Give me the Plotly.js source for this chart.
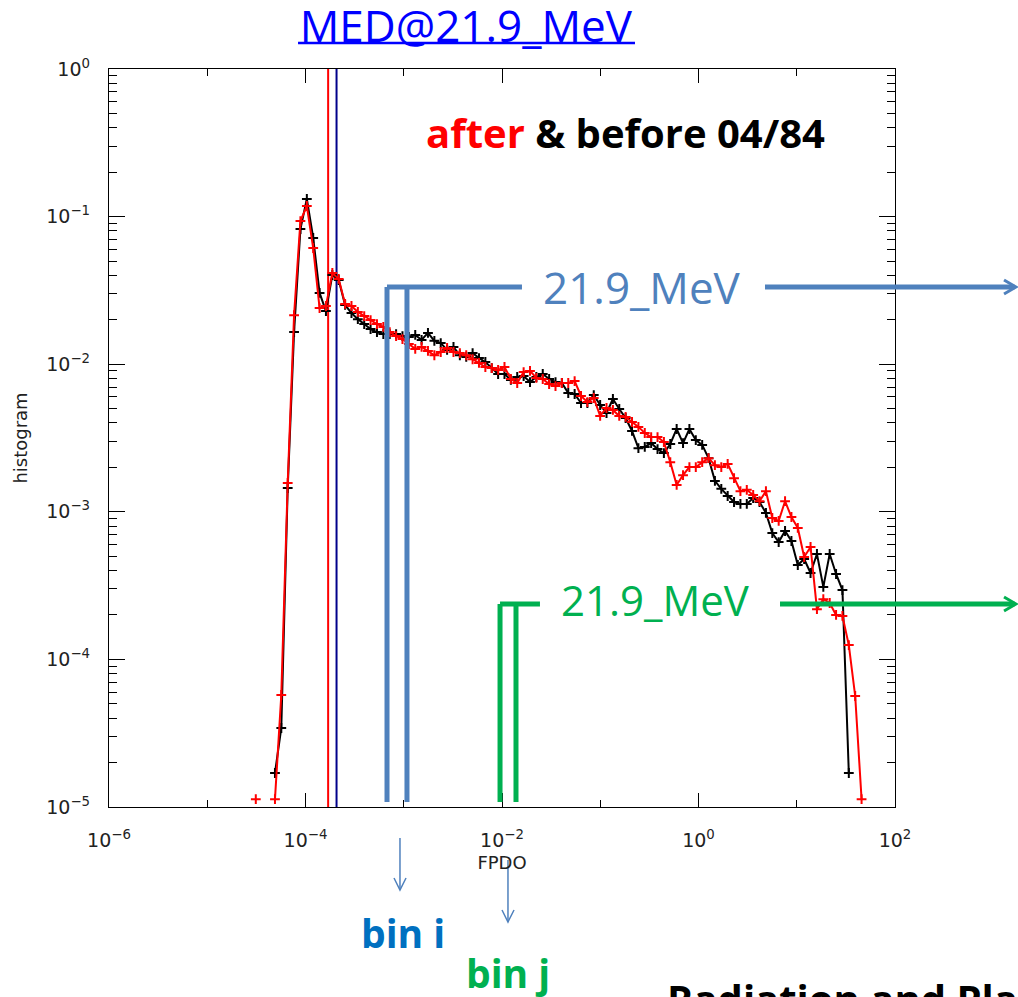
<!DOCTYPE html>
<html>
<head>
<meta charset="utf-8">
<script src="https://cdn.plot.ly/plotly-3.0.1.min.js"></script>
<style>
html,body{margin:0;padding:0;background:#fff;}
#chart{width:1018px;height:997px;}
</style>
</head>
<body>
<div id="chart"></div>
<script>
// FPDO bin centres (shared by both histograms)
var fpdoBins = [
  3.12e-5, 3.62e-5, 4.21e-5, 4.89e-5, 5.67e-5, 6.59e-5, 7.65e-5, 8.88e-5,
  1.032e-4, 1.198e-4, 1.391e-4, 1.615e-4, 1.876e-4, 2.178e-4, 2.529e-4, 2.937e-4, 3.410e-4, 3.960e-4, 4.597e-4, 5.339e-4, 6.199e-4, 7.198e-4, 8.358e-4, 9.705e-4,
  1.127e-3, 1.309e-3, 1.519e-3, 1.764e-3, 2.049e-3, 2.379e-3, 2.762e-3, 3.208e-3, 3.725e-3, 4.325e-3, 5.022e-3, 5.831e-3, 6.771e-3, 7.862e-3, 9.131e-3,
  1.060e-2, 1.231e-2, 1.429e-2, 1.660e-2, 1.928e-2, 2.238e-2, 2.599e-2, 3.018e-2, 3.504e-2, 4.069e-2, 4.725e-2, 5.487e-2, 6.371e-2, 7.397e-2, 8.590e-2, 9.975e-2,
  0.1158, 0.1345, 0.1561, 0.1813, 0.2105, 0.2445, 0.2839, 0.3297, 0.3828, 0.4445, 0.5161, 0.5994, 0.6960, 0.8082, 0.9384,
  1.090, 1.265, 1.469, 1.706, 1.981, 2.300, 2.671, 3.101, 3.601, 4.181, 4.856, 5.638, 6.547, 7.603, 8.828,
  10.25, 11.90, 13.82, 16.05, 18.64, 21.64, 25.13, 29.18, 33.88, 39.34, 45.68
];

// histogram before 04/84 (black)
var histBefore = [
  null, null, null,
  1.70e-5, 3.43e-5, 1.45e-3, 1.65e-2, 8.24e-2, 0.1316, 7.16e-2, 3.04e-2, 2.29e-2, 4.02e-2,
  3.72e-2, 2.52e-2, 2.22e-2, 2.02e-2, 1.87e-2, 1.73e-2, 1.65e-2, 1.60e-2, 1.60e-2, 1.60e-2,
  1.55e-2, 1.53e-2, 1.58e-2, 1.46e-2, 1.63e-2, 1.44e-2, 1.39e-2, 1.25e-2, 1.31e-2, 1.15e-2,
  1.12e-2, 1.19e-2, 1.10e-2, 1.035e-2, 9.42e-3, 8.58e-3, 8.58e-3, 7.82e-3, 8.19e-3, 8.32e-3,
  7.57e-3, 8.19e-3, 8.58e-3, 7.94e-3, 7.57e-3, 7.46e-3, 6.38e-3, 6.28e-3, 5.46e-3, 5.46e-3,
  6.18e-3, 5.29e-3, 4.67e-3, 5.81e-3, 4.97e-3, 4.32e-3, 3.53e-3, 2.70e-3, 2.75e-3, 2.92e-3,
  2.66e-3, 2.50e-3, 2.88e-3, 3.64e-3, 2.92e-3, 3.64e-3, 3.06e-3, 2.84e-3, 2.31e-3, 1.62e-3,
  1.43e-3, 1.28e-3, 1.165e-3, 1.13e-3, 1.13e-3, 1.24e-3, 1.165e-3, 9.82e-4, 7.18e-4, 6.24e-4,
  7.41e-4, 6.34e-4, 4.36e-4, 4.79e-4, 3.85e-4, 5.18e-4, 3.10e-4, 5.18e-4, 3.79e-4, 2.95e-4,
  1.70e-5, null, null
];

// histogram after 04/84 (red)
var histAfter = [
  1.13e-5, null, null,
  1.13e-5, 5.74e-5, 1.57e-3, 2.15e-2, 9.33e-2, 0.118, 6.12e-2, 2.40e-2, 2.48e-2, 4.15e-2,
  3.78e-2, 2.56e-2, 2.48e-2, 2.26e-2, 2.12e-2, 1.99e-2, 1.87e-2, 1.79e-2, 1.65e-2, 1.55e-2,
  1.48e-2, 1.37e-2, 1.27e-2, 1.31e-2, 1.23e-2, 1.15e-2, 1.21e-2, 1.29e-2, 1.21e-2, 1.19e-2,
  1.15e-2, 1.08e-2, 1.02e-2, 9.57e-3, 9.42e-3, 9.14e-3, 9.57e-3, 7.94e-3, 7.46e-3, 8.85e-3,
  9.00e-3, 8.07e-3, 7.94e-3, 7.34e-3, 7.11e-3, 7.46e-3, 7.46e-3, 7.69e-3, 6.09e-3, 5.54e-3,
  5.90e-3, 4.46e-3, 5.05e-3, 4.90e-3, 4.46e-3, 4.39e-3, 4.06e-3, 3.76e-3, 3.42e-3, 3.21e-3,
  3.21e-3, 2.97e-3, 2.17e-3, 1.52e-3, 1.77e-3, 2.01e-3, 2.01e-3, 2.17e-3, 2.31e-3, 2.07e-3,
  2.01e-3, 2.11e-3, 1.69e-3, 1.38e-3, 1.41e-3, 1.30e-3, 1.18e-3, 1.38e-3, 9.08e-4, 8.67e-4,
  1.18e-3, 9.22e-4, 7.77e-4, 4.94e-4, 5.78e-4, 2.19e-4, 2.56e-4, 2.41e-4, 2.00e-4, 1.97e-4,
  1.25e-4, 5.65e-5, 1.13e-5
];

// median markers (vertical lines)
var medianAfter = 1.70e-4;
var medianBefore = 2.07e-4;
var verticalSpan = [1e-5, 1];

// tick labels
var xTickVals = [1e-6, 1e-4, 1e-2, 1, 100];
var xTickText = ['10<sup>\u22126</sup>', '10<sup>\u22124</sup>', '10<sup>\u22122</sup>', '10<sup>0</sup>', '10<sup>2</sup>'];
var xMinorVals = [1e-5, 1e-3, 1e-1, 10];
var yTickVals = [1e-5, 1e-4, 1e-3, 1e-2, 1e-1, 1];
var yTickText = ['10<sup>\u22125</sup>', '10<sup>\u22124</sup>', '10<sup>\u22123</sup>', '10<sup>\u22122</sup>', '10<sup>\u22121</sup>', '10<sup>0</sup>'];

var BLUE = '#4F81BD', GREEN = '#00B050';

var traces = [
  {x: [medianAfter, medianAfter], y: verticalSpan, mode: 'lines', line: {color: '#FF0000', width: 2}, hoverinfo: 'skip'},
  {x: [medianBefore, medianBefore], y: verticalSpan, mode: 'lines', line: {color: '#00008B', width: 2}, hoverinfo: 'skip'},
  {x: fpdoBins, y: histBefore, mode: 'lines+markers', name: 'before 04/84',
   line: {color: '#000000', width: 2}, marker: {symbol: 'cross-thin', size: 7, line: {color: '#000000', width: 2}}, connectgaps: false},
  {x: fpdoBins, y: histAfter, mode: 'lines+markers', name: 'after 04/84',
   line: {color: '#FF0000', width: 2}, marker: {symbol: 'cross-thin', size: 7, line: {color: '#FF0000', width: 2}}, connectgaps: false}
];

function seg(x0, y0, x1, y1, color, w) {
  return {type: 'line', xref: 'paper', yref: 'paper', x0: x0, y0: y0, x1: x1, y1: y1, line: {color: color, width: w}, layer: 'above'};
}
function vpath(d, color, w) {
  return {type: 'path', xref: 'paper', yref: 'paper', path: d, line: {color: color, width: w}, layer: 'above'};
}

var shapes = [
  // title underline
  seg(0.2405, 1.0352, 0.6692, 1.0352, '#0000FF', 2.5),
  // blue bin marker
  seg(0.3537, 0.0068, 0.3537, 0.7046, BLUE, 5),
  seg(0.3791, 0.0068, 0.3791, 0.7046, BLUE, 5),
  seg(0.3537, 0.7046, 0.5254, 0.7046, BLUE, 5),
  seg(0.8346, 0.7046, 1.1520, 0.7046, BLUE, 5),
  vpath('M 1.1387 0.7141 L 1.1539 0.7046 L 1.1387 0.6951', BLUE, 3),
  // green bin marker
  seg(0.4975, 0.0068, 0.4975, 0.2751, GREEN, 5),
  seg(0.5178, 0.0068, 0.5178, 0.2751, GREEN, 5),
  seg(0.4975, 0.2751, 0.5483, 0.2751, GREEN, 5),
  seg(0.8537, 0.2751, 1.1520, 0.2751, GREEN, 5),
  vpath('M 1.1387 0.2846 L 1.1539 0.2751 L 1.1387 0.2656', GREEN, 3),
  // small arrows
  seg(0.3702, -0.0420, 0.3702, -0.1125, BLUE, 1.5),
  vpath('M 0.3626 -0.0962 L 0.3702 -0.1125 L 0.3779 -0.0962', BLUE, 1.5),
  seg(0.5076, -0.0718, 0.5076, -0.1558, BLUE, 1.5),
  vpath('M 0.5000 -0.1396 L 0.5076 -0.1558 L 0.5153 -0.1396', BLUE, 1.5)
];

var annotations = [
  {xref: 'paper', yref: 'paper', x: 0.6565, y: 0.9133, showarrow: false, xanchor: 'center', yanchor: 'middle',
   text: '<b><span style="color:#FF0000">after</span> &amp; before 04/84</b>',
   font: {family: 'Open Sans', size: 40, color: '#000000'}},
  {xref: 'paper', yref: 'paper', x: 0.6781, y: 0.7046, showarrow: false, xanchor: 'center', yanchor: 'middle',
   text: '21.9_MeV', font: {family: 'Open Sans', size: 44, color: BLUE}},
  {xref: 'paper', yref: 'paper', x: 0.6947, y: 0.2805, showarrow: false, xanchor: 'center', yanchor: 'middle',
   text: '21.9_MeV', font: {family: 'Open Sans', size: 42, color: GREEN}},
  {xref: 'paper', yref: 'paper', x: 0.3740, y: -0.1707, showarrow: false, xanchor: 'center', yanchor: 'middle',
   text: '<b>bin i</b>', font: {family: 'Open Sans', size: 39, color: '#0070C0'}},
  {xref: 'paper', yref: 'paper', x: 0.5076, y: -0.2236, showarrow: false, xanchor: 'center', yanchor: 'middle',
   text: '<b>bin j</b>', font: {family: 'Open Sans', size: 39, color: GREEN}},
  {xref: 'paper', yref: 'paper', x: 0.7074, y: -0.2195, showarrow: false, xanchor: 'left', yanchor: 'top',
   text: '<b>Radiation and Plasma</b>', font: {family: 'Open Sans', size: 40, color: '#000000'}}
];

var tickFont = {family: 'DejaVu Sans', size: 19, color: '#222222'};

var layout = {
  width: 1018, height: 997,
  margin: {l: 109, r: 123, t: 69, b: 190},
  paper_bgcolor: '#ffffff', plot_bgcolor: '#ffffff',
  showlegend: false,
  title: {text: 'MED@21.9_MeV', x: 0.454, xref: 'paper', y: 0.973, yref: 'container', xanchor: 'center', yanchor: 'middle',
          font: {family: 'Open Sans', size: 44, color: '#0000FF'}},
  xaxis: {
    type: 'log', range: [-6, 2], showgrid: false, zeroline: false,
    showline: true, linecolor: '#000', linewidth: 1.2, mirror: 'ticks',
    ticks: 'inside', ticklen: 14, tickwidth: 1, tickcolor: '#000',
    tickmode: 'array', tickvals: xTickVals, ticktext: xTickText,
    tickfont: tickFont, ticklabelstandoff: 16,
    minor: {tickmode: 'array', tickvals: xMinorVals, ticks: 'inside', ticklen: 7, tickwidth: 1, tickcolor: '#000', showgrid: false},
    title: {text: 'FPDO', font: {family: 'DejaVu Sans', size: 18, color: '#222'}, standoff: 6}
  },
  yaxis: {
    type: 'log', range: [-5, 0], showgrid: false, zeroline: false,
    showline: true, linecolor: '#000', linewidth: 1.2, mirror: 'ticks',
    ticks: 'inside', ticklen: 16, tickwidth: 1, tickcolor: '#000',
    tickmode: 'array', tickvals: yTickVals, ticktext: yTickText,
    tickfont: tickFont, ticklabelstandoff: 14,
    minor: {dtick: 'D1', ticks: 'inside', ticklen: 8, tickwidth: 1, tickcolor: '#000', showgrid: false},
    title: {text: 'histogram', font: {family: 'DejaVu Sans', size: 18, color: '#222'}, standoff: 14}
  },
  shapes: shapes,
  annotations: annotations
};

Plotly.newPlot('chart', traces, layout, {displayModeBar: false, staticPlot: true});
</script>
</body>
</html>
